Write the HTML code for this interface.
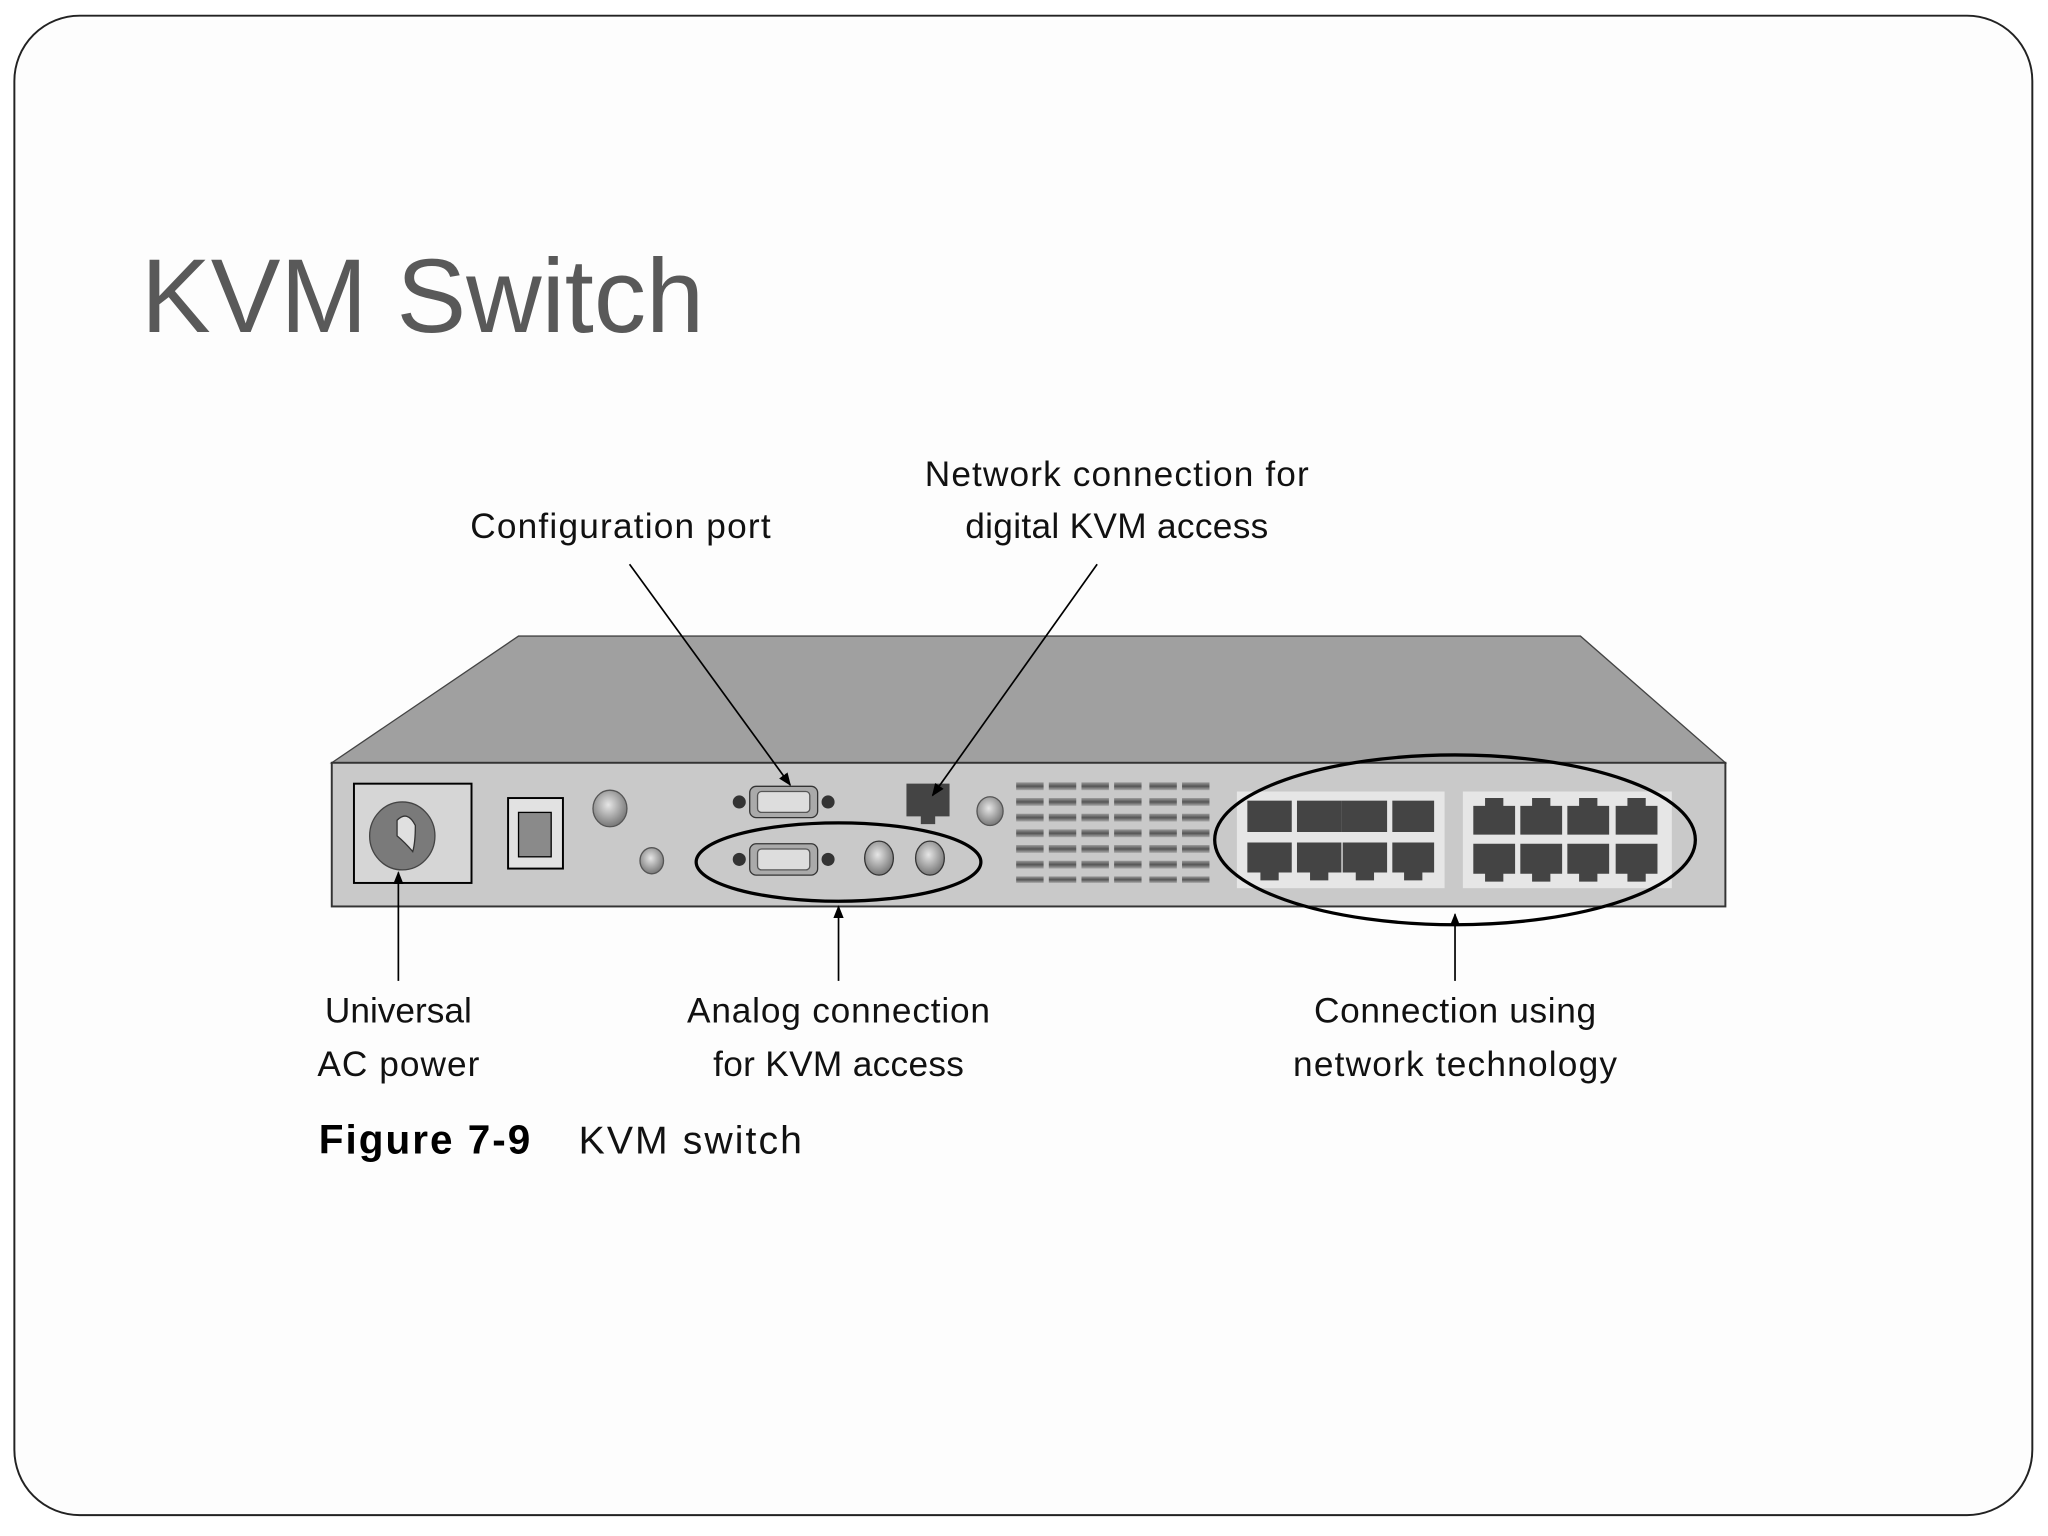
<!DOCTYPE html>
<html><head><meta charset="utf-8"><style>
html,body{margin:0;padding:0;background:#fff;width:2048px;height:1536px;overflow:hidden}
svg{display:block}
text{font-family:"Liberation Sans",sans-serif}
</style></head><body>
<svg width="2048" height="1536" viewBox="0 0 1568 1176" xmlns="http://www.w3.org/2000/svg">
<defs>
<marker id="ah" markerWidth="10" markerHeight="10" refX="9" refY="5" orient="auto" markerUnits="userSpaceOnUse"><path d="M0,1 L10,5 L0,9 Z" fill="#000"/></marker>
<radialGradient id="knob" cx="0.45" cy="0.4" r="0.6"><stop offset="0" stop-color="#e6e6e6"/><stop offset="1" stop-color="#777"/></radialGradient>
<linearGradient id="vent" x1="0" y1="0" x2="0" y2="1"><stop offset="0" stop-color="#999"/><stop offset="0.5" stop-color="#555"/><stop offset="1" stop-color="#aaa"/></linearGradient>
</defs>
<rect x="0" y="0" width="1568" height="1176" fill="#fff"/>
<rect x="11" y="12" width="1545" height="1148" rx="50" fill="#fdfdfd" stroke="#222" stroke-width="1.5"/>
<text x="108" y="254" font-size="80" fill="#595959">KVM Switch</text>

<polygon points="254,584 397,487 1210,487 1321,584" fill="#a0a0a0" stroke="#444" stroke-width="1"/>
<rect x="254" y="584" width="1067" height="110" fill="#c9c9c9" stroke="#333" stroke-width="1.5"/>

<rect x="271" y="600" width="90" height="76" fill="#d6d6d6" stroke="#000" stroke-width="1.5"/>
<ellipse cx="308" cy="640" rx="25" ry="26" fill="#7a7a7a" stroke="#444"/>
<path d="M304,628 Q312,620 318,632 Q318,645 316,652 Q310,645 304,640 Z" fill="#e0e0e0" stroke="#333"/>
<rect x="389" y="611" width="42" height="54" fill="#e2e2e2" stroke="#000" stroke-width="1.5"/>
<rect x="397" y="622" width="25" height="34" fill="#8a8a8a" stroke="#000"/>
<ellipse cx="467" cy="619" rx="13" ry="14" fill="url(#knob)" stroke="#555"/>
<ellipse cx="499" cy="659" rx="9" ry="10" fill="url(#knob)" stroke="#555"/>
<ellipse cx="758" cy="621" rx="10" ry="11" fill="url(#knob)" stroke="#555"/>

<g>
<circle cx="566" cy="614" r="5" fill="#333"/><circle cx="634" cy="614" r="5" fill="#333"/>
<rect x="574" y="602" width="52" height="24" rx="5" fill="#aaa" stroke="#333"/>
<rect x="580" y="606" width="40" height="16" rx="3" fill="#ddd" stroke="#555"/>
</g>
<g transform="translate(0,44)">
<circle cx="566" cy="614" r="5" fill="#333"/><circle cx="634" cy="614" r="5" fill="#333"/>
<rect x="574" y="602" width="52" height="24" rx="5" fill="#aaa" stroke="#333"/>
<rect x="580" y="606" width="40" height="16" rx="3" fill="#ddd" stroke="#555"/>
</g>
<ellipse cx="673" cy="657" rx="11" ry="13" fill="url(#knob)" stroke="#333"/>
<ellipse cx="712" cy="657" rx="11" ry="13" fill="url(#knob)" stroke="#333"/>
<ellipse cx="642" cy="660" rx="109" ry="30" fill="none" stroke="#000" stroke-width="2.5"/>

<path d="M694,600 H727 V625 H716 V631 H705 V625 H694 Z" fill="#444"/>

<g fill="url(#vent)">
<rect x="778" y="599" width="21" height="6"/><rect x="803" y="599" width="21" height="6"/><rect x="828" y="599" width="21" height="6"/><rect x="853" y="599" width="21" height="6"/><rect x="880" y="599" width="21" height="6"/><rect x="905" y="599" width="21" height="6"/>
<rect x="778" y="611" width="21" height="6"/><rect x="803" y="611" width="21" height="6"/><rect x="828" y="611" width="21" height="6"/><rect x="853" y="611" width="21" height="6"/><rect x="880" y="611" width="21" height="6"/><rect x="905" y="611" width="21" height="6"/>
<rect x="778" y="623" width="21" height="6"/><rect x="803" y="623" width="21" height="6"/><rect x="828" y="623" width="21" height="6"/><rect x="853" y="623" width="21" height="6"/><rect x="880" y="623" width="21" height="6"/><rect x="905" y="623" width="21" height="6"/>
<rect x="778" y="635" width="21" height="6"/><rect x="803" y="635" width="21" height="6"/><rect x="828" y="635" width="21" height="6"/><rect x="853" y="635" width="21" height="6"/><rect x="880" y="635" width="21" height="6"/><rect x="905" y="635" width="21" height="6"/>
<rect x="778" y="647" width="21" height="6"/><rect x="803" y="647" width="21" height="6"/><rect x="828" y="647" width="21" height="6"/><rect x="853" y="647" width="21" height="6"/><rect x="880" y="647" width="21" height="6"/><rect x="905" y="647" width="21" height="6"/>
<rect x="778" y="659" width="21" height="6"/><rect x="803" y="659" width="21" height="6"/><rect x="828" y="659" width="21" height="6"/><rect x="853" y="659" width="21" height="6"/><rect x="880" y="659" width="21" height="6"/><rect x="905" y="659" width="21" height="6"/>
<rect x="778" y="671" width="21" height="5"/><rect x="803" y="671" width="21" height="5"/><rect x="828" y="671" width="21" height="5"/><rect x="853" y="671" width="21" height="5"/><rect x="880" y="671" width="21" height="5"/><rect x="905" y="671" width="21" height="5"/>
</g>

<rect x="947" y="606" width="159" height="74" fill="#e6e6e6"/>
<rect x="1120" y="606" width="160" height="74" fill="#e6e6e6"/>
<g fill="#444">
<rect x="955" y="613" width="34" height="24"/><rect x="993" y="613" width="34" height="24"/><rect x="1027" y="613" width="35" height="24"/><rect x="1066" y="613" width="32" height="24"/>
<path d="M955,645 h34 v23 h-10 v6 h-14 v-6 h-10 z"/><path d="M993,645 h34 v23 h-10 v6 h-14 v-6 h-10 z"/><path d="M1028,645 h34 v23 h-10 v6 h-14 v-6 h-10 z"/><path d="M1066,645 h32 v23 h-9 v6 h-14 v-6 h-9 z"/>
<path d="M1128,617 h9 v-6 h14 v6 h9 v22 h-32 z"/><path d="M1164,617 h9 v-6 h14 v6 h9 v22 h-32 z"/><path d="M1200,617 h9 v-6 h14 v6 h9 v22 h-32 z"/><path d="M1237,617 h9 v-6 h14 v6 h9 v22 h-32 z"/>
<path d="M1128,646 h32 v23 h-9 v6 h-14 v-6 h-9 z"/><path d="M1164,646 h32 v23 h-9 v6 h-14 v-6 h-9 z"/><path d="M1200,646 h32 v23 h-9 v6 h-14 v-6 h-9 z"/><path d="M1237,646 h32 v23 h-9 v6 h-14 v-6 h-9 z"/>
</g>
<ellipse cx="1114" cy="643" rx="184" ry="65" fill="none" stroke="#000" stroke-width="2.5"/>

<g stroke="#000" stroke-width="1.3" fill="none">
<line x1="482" y1="432" x2="605" y2="601" marker-end="url(#ah)"/>
<line x1="840" y1="432" x2="714" y2="609" marker-end="url(#ah)"/>
<line x1="305" y1="751" x2="305" y2="668" marker-end="url(#ah)"/>
<line x1="642" y1="751" x2="642" y2="694" marker-end="url(#ah)"/>
<line x1="1114" y1="751" x2="1114" y2="700" marker-end="url(#ah)"/>
</g>

<g font-size="27" fill="#111" text-anchor="middle">
<text x="475" y="412" textLength="230">Configuration port</text>
<text x="855" y="372" textLength="294">Network connection for</text>
<text x="855" y="412" textLength="232">digital KVM access</text>
<text x="305" y="783">Universal</text>
<text x="305" y="824" textLength="124">AC power</text>
<text x="642" y="783" textLength="232">Analog connection</text>
<text x="642" y="824" textLength="192">for KVM access</text>
<text x="1114" y="783" textLength="216">Connection using</text>
<text x="1114" y="824" textLength="248">network technology</text>
</g>
<text x="244" y="883" font-size="31" font-weight="bold" fill="#000" textLength="162">Figure 7-9</text>
<text x="443" y="883" font-size="30" fill="#111" textLength="171">KVM switch</text>
</svg>
</body></html>
